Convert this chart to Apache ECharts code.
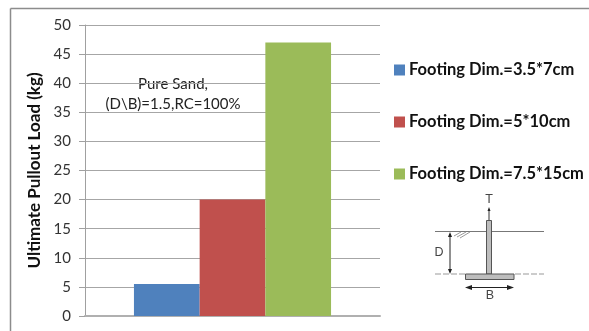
<!DOCTYPE html>
<html>
<head>
<meta charset="utf-8">
<style>
  html, body { margin: 0; padding: 0; background: #fff; }
  #myChart { width: 589px; height: 331px; }
</style>
</head>
<body>
<div id="myChart"></div>
<script src="https://cdn.jsdelivr.net/npm/echarts@6/dist/echarts.min.js"></script>
<script>
  const categories = ['']
  const seriesNames = ['Footing Dim.=3.5*7cm', 'Footing Dim.=5*10cm', 'Footing Dim.=7.5*15cm']
  const small = [5.5]
  const medium = [20]
  const large = [47]
  const colors = ['#4f81bd', '#c0504d', '#9bbb59']
  const font = 'Lato'
  const diagramColor = '#555'

  function line(x1, y1, x2, y2, color, width, dash) {
    return {
      type: 'line',
      shape: {x1: x1, y1: y1, x2: x2, y2: y2},
      style: {stroke: color, lineWidth: width, lineDash: dash || null}
    }
  }
  function arrow(points) {
    return {type: 'polygon', shape: {points: points}, style: {fill: '#222'}}
  }
  function label(text, x, y, size) {
    return {
      type: 'text',
      x: x, y: y,
      style: {text: text, fontFamily: 'Liberation Sans', fontSize: size, fill: '#444', align: 'center', verticalAlign: 'middle'}
    }
  }
  function note(text, y) {
    return {
      type: 'text', x: 173, y: y,
      style: {
        text: text, fontFamily: font, fontSize: 15, fill: '#222',
        backgroundColor: '#fff', align: 'center', verticalAlign: 'middle'
      }
    }
  }

  let myCharts = echarts.init(document.getElementById('myChart'))
  myCharts.setOption({
    animation: false,
    textStyle: {fontFamily: font},
    grid: {left: 85, right: 209, top: 25, bottom: 15},
    legend: {
      orient: 'vertical',
      left: 389,
      top: 55,
      itemWidth: 11,
      itemHeight: 11,
      itemGap: 32,
      icon: 'rect',
      selectedMode: false,
      textStyle: {fontFamily: font, fontSize: 16.5, fontWeight: 'bold', color: '#111', height: 20, lineHeight: 20, padding: [0, 0, 0, -1]},
      data: seriesNames
    },
    xAxis: {
      type: 'category',
      data: categories,
      axisLine: {lineStyle: {color: '#b0b0b0', width: 2}},
      axisTick: {show: false},
      axisLabel: {show: false}
    },
    yAxis: {
      type: 'value',
      min: 0,
      max: 50,
      interval: 5,
      name: 'Ultimate Pullout Load (kg)',
      nameLocation: 'middle',
      nameGap: 37,
      nameTextStyle: {fontFamily: font, fontSize: 17, fontWeight: 'bold', color: '#111'},
      axisLine: {show: true, lineStyle: {color: '#a0a0a0'}},
      axisTick: {show: true, length: 6, lineStyle: {color: '#a0a0a0'}},
      axisLabel: {fontFamily: font, fontSize: 15, color: '#333', margin: 14},
      splitLine: {lineStyle: {color: '#a6a6a6'}}
    },
    series: [
      {name: seriesNames[0], type: 'bar', data: small, barWidth: 65.7, barGap: 0, itemStyle: {color: colors[0]}},
      {name: seriesNames[1], type: 'bar', data: medium, barWidth: 65.7, barGap: 0, itemStyle: {color: colors[1]}},
      {name: seriesNames[2], type: 'bar', data: large, barWidth: 65.7, barGap: 0, itemStyle: {color: colors[2]}}
    ],
    graphic: [
      // picture frame
      line(10.5, 8.5, 589, 8.5, '#8c8c8c', 1.5),
      line(10.5, 8.5, 10.5, 331, '#8c8c8c', 1.5),
      // note inside the plot, white behind the text hides the gridline
      note('Pure Sand,', 84),
      note('(D\\B)=1.5,RC=100%', 104),
      // footing sketch
      line(435, 231.5, 544, 231.5, '#777', 1),
      line(435, 274, 465, 274, '#999', 1, [6, 2]),
      line(515, 274, 544, 274, '#999', 1, [6, 2]),
      line(454, 236, 461, 232, '#999', 1),
      line(457, 237, 466, 232, '#999', 1),
      line(460, 238, 470, 232, '#999', 1),
      {type: 'rect', shape: {x: 486.5, y: 220.5, width: 5, height: 53.5}, style: {fill: '#bdbdbd', stroke: diagramColor, lineWidth: 1}},
      {type: 'rect', shape: {x: 465.5, y: 274, width: 48.5, height: 5.5}, style: {fill: '#bdbdbd', stroke: diagramColor, lineWidth: 1}},
      line(450, 234, 450, 272, '#222', 1),
      arrow([[450, 232], [448, 237], [452, 237]]),
      arrow([[450, 274], [448, 269], [452, 269]]),
      line(489, 209, 489, 220, '#333', 1),
      arrow([[489, 207], [487.5, 211], [490.5, 211]]),
      line(470, 287.5, 510, 287.5, '#222', 1),
      arrow([[465, 287.5], [472, 285], [472, 290]]),
      arrow([[514, 287.5], [507, 285], [507, 290]]),
      label('D', 439, 253, 12.5),
      label('T', 489, 200, 12.5),
      label('B', 490, 296, 12.5)
    ]
  })
</script>
</body>
</html>
